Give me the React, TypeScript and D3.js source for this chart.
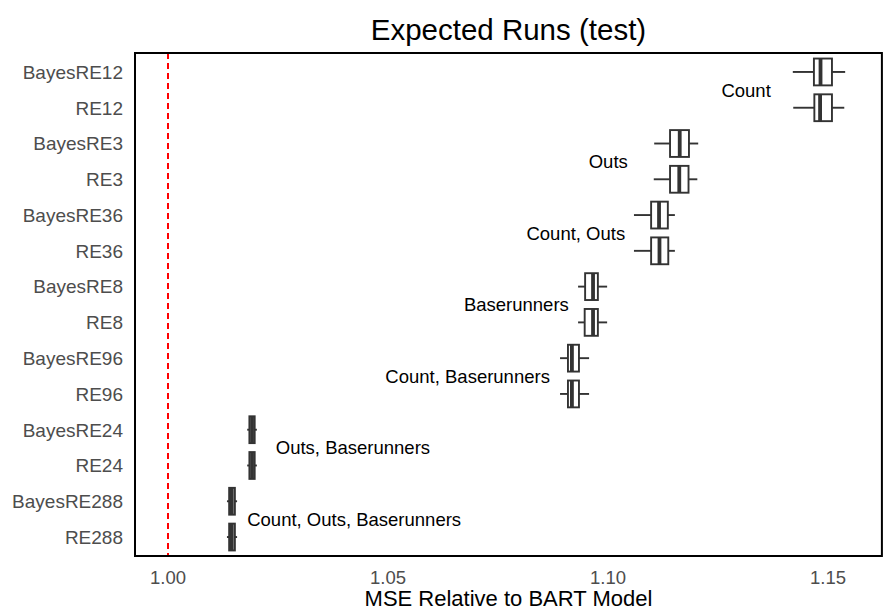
import React from "react";
import * as d3 from "d3";

const categories = [
  "BayesRE12", "RE12", "BayesRE3", "RE3", "BayesRE36", "RE36", "BayesRE8",
  "RE8", "BayesRE96", "RE96", "BayesRE24", "RE24", "BayesRE288", "RE288",
];
const whiskerLow = [1.1420, 1.1421, 1.1105, 1.1104, 1.1059, 1.1059, 1.0932, 1.0932, 1.0891, 1.0891, 1.0180, 1.0180, 1.0134, 1.0134];
const q1 = [1.1468, 1.1469, 1.1141, 1.1141, 1.1098, 1.1098, 1.0948, 1.0947, 1.0909, 1.0909, 1.0185, 1.0185, 1.0139, 1.0139];
const median = [1.1483, 1.1482, 1.1163, 1.1162, 1.1116, 1.1117, 1.0966, 1.0966, 1.0918, 1.0918, 1.0191, 1.0191, 1.0145, 1.0145];
const q3 = [1.1509, 1.1509, 1.1184, 1.1183, 1.1136, 1.1137, 1.0977, 1.0977, 1.0934, 1.0934, 1.0197, 1.0197, 1.0152, 1.0152];
const whiskerHigh = [1.1539, 1.1537, 1.1205, 1.1203, 1.1152, 1.1152, 1.0998, 1.0998, 1.0957, 1.0957, 1.0202, 1.0202, 1.0157, 1.0157];

const noteLabels = ["Count", "Outs", "Count, Outs", "Baserunners", "Count, Baserunners", "Outs, Baserunners", "Count, Outs, Baserunners"];
const noteX = [1.1370, 1.1045, 1.1039, 1.0911, 1.0868, 1.0245, 1.0180];
const noteAnchor = ["end", "end", "end", "end", "end", "start", "start"];

const xTicks = [1.0, 1.05, 1.1, 1.15];

const FONT = "'Liberation Sans', Arial, Helvetica, sans-serif";

export default function App() {
  const width = 884;
  const height = 610;
  const x = d3.scaleLinear().domain([1.0, 1.15]).range([168, 828]);
  const left = x(0.9925);
  const right = x(1.16225);
  const top = 53;
  const bottom = 556;
  const y = d3.scalePoint<string>().domain(categories).range([top, bottom]).padding(0.53);
  const bw = y.step() * 0.75;

  return (
    <svg width={width} height={height} style={{ position: "absolute", left: 0, top: 0, background: "#fff" }} fontFamily={FONT}>
      <text x={(left + right) / 2} y={40} textAnchor="middle" fontSize={29.5} fill="#000">
        Expected Runs (test)
      </text>

      {/* reference line at 1 */}
      <line x1={x(1)} x2={x(1)} y1={top} y2={bottom} stroke="#ff0000" strokeWidth={2} strokeDasharray="6,4" />

      {categories.map((c, i) => {
        const cy = y(c)!;
        return (
          <g key={c} stroke="#333333" strokeWidth={1.9}>
            <line x1={x(whiskerLow[i])} x2={x(q1[i])} y1={cy} y2={cy} />
            <line x1={x(q3[i])} x2={x(whiskerHigh[i])} y1={cy} y2={cy} />
            <rect x={x(q1[i])} y={cy - bw / 2} width={x(q3[i]) - x(q1[i])} height={bw} fill="#fff" />
            <line x1={x(median[i])} x2={x(median[i])} y1={cy - bw / 2} y2={cy + bw / 2} strokeWidth={3.8} />
          </g>
        );
      })}

      {noteLabels.map((t, i) => {
        const cy = (y(categories[2 * i])! + y(categories[2 * i + 1])!) / 2;
        return (
          <text key={t} x={x(noteX[i])} y={cy} dy="0.36em" textAnchor={noteAnchor[i] as any} fontSize={18.5} fill="#000">
            {t}
          </text>
        );
      })}

      <rect x={left} y={top} width={right - left} height={bottom - top} fill="none" stroke="#000" strokeWidth={2} />

      {categories.map(c => (
        <text key={c} x={left - 12} y={y(c)!} dy="0.36em" textAnchor="end" fontSize={19} fill="#4d4d4d">
          {c}
        </text>
      ))}

      {xTicks.map(t => (
        <text key={t} x={x(t)} y={584} textAnchor="middle" fontSize={18.5} fill="#4d4d4d">
          {d3.format(".2f")(t)}
        </text>
      ))}

      <text x={(left + right) / 2} y={606} textAnchor="middle" fontSize={22} fill="#000">
        MSE Relative to BART Model
      </text>
    </svg>
  );
}
